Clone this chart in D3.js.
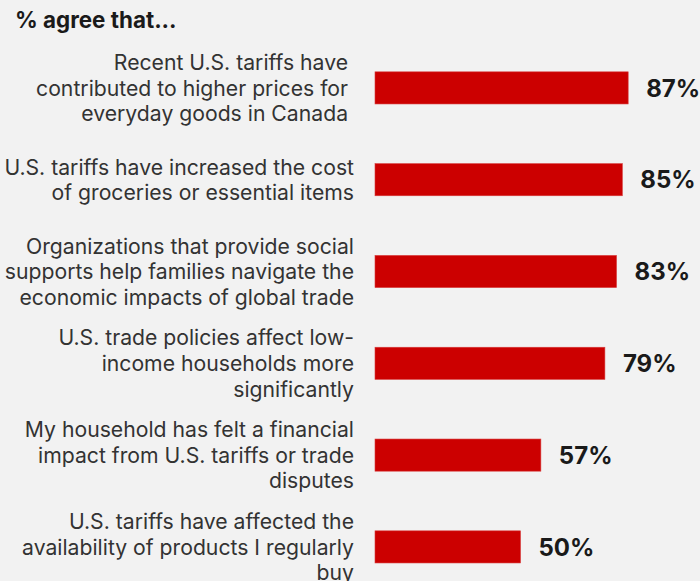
<!DOCTYPE html>
<html>
<head>
<meta charset="utf-8">
<script src="https://cdn.jsdelivr.net/npm/d3@7"></script>
<style>
  html, body { margin: 0; padding: 0; background: #f2f2f2; }
  svg { display: block; font-family: Inter, "Noto Sans", sans-serif; }
  .lbl { white-space: pre; }
</style>
</head>
<body>
<div id="viz-container"></div>
<script>
'use strict';

// Data.
const titleText = '% agree that...';
const categories = [
    ['Recent U.S. tariffs have ', 'contributed to higher prices for ', 'everyday goods in Canada '],
    ['U.S. tariffs have increased the cost', 'of groceries or essential items'],
    ['Organizations that provide social', 'supports help families navigate the', 'economic impacts of global trade'],
    ['U.S. trade policies affect low-', 'income households more', 'significantly'],
    ['My household has felt a financial', 'impact from U.S. tariffs or trade', 'disputes'],
    ['U.S. tariffs have affected the', 'availability of products I regularly', 'buy']
];
const values = [87, 85, 83, 79, 57, 50];

const width = 700;
const height = 581;
const margin = { top: 42, right: 34, bottom: 0, left: 375 };

const svg = d3.select('#viz-container')
    .append('svg')
    .attr('width', width)
    .attr('height', height);

svg.append('rect')
    .attr('width', width)
    .attr('height', height)
    .attr('fill', '#f2f2f2');

// Title
svg.append('text')
    .attr('x', 15)
    .attr('y', 28)
    .attr('font-size', 22.4)
    .attr('font-weight', 700)
    .attr('fill', '#1a1a1a')
    .text(titleText);

const x = d3.scaleLinear()
    .domain([0, 100])
    .range([margin.left, width - margin.right]);

const y = d3.scaleBand()
    .domain(d3.range(values.length))
    .range([margin.top, margin.top + 91.8 * values.length])
    .paddingInner(0.65)
    .paddingOuter(0.325);

const rows = svg.selectAll('g.row')
    .data(values.map((v, i) => ({ v, i, lines: categories[i] })))
    .enter()
    .append('g')
    .attr('class', 'row');

rows.append('rect')
    .attr('x', x(0))
    .attr('y', d => y(d.i))
    .attr('width', d => x(d.v) - x(0))
    .attr('height', y.bandwidth())
    .attr('fill', '#cc0000')
    .attr('stroke', '#d83a3a')
    .attr('stroke-width', 0.6);

rows.append('text')
    .attr('x', d => x(d.v) + 18)
    .attr('y', d => y(d.i) + y.bandwidth() / 2)
    .attr('dy', '0.36em')
    .attr('font-size', 24)
    .attr('font-weight', 700)
    .attr('fill', '#1a1a1a')
    .text(d => d.v + '%');

// Category labels, right aligned and centred on each bar.
const lineH = 25.6;
rows.each(function(d) {
    const cy = y(d.i) + y.bandwidth() / 2;
    const n = d.lines.length;
    const t = d3.select(this).append('text')
        .attr('class', 'lbl')
        .attr('text-anchor', 'end')
        .attr('font-size', 21.2)
        .attr('fill', '#333333');
    d.lines.forEach((line, k) => {
        t.append('tspan')
            .attr('x', 354)
            .attr('y', cy + (k - (n - 1) / 2) * lineH)
            .attr('dy', '0.36em')
            .text(line);
    });
});
</script>
</body>
</html>
